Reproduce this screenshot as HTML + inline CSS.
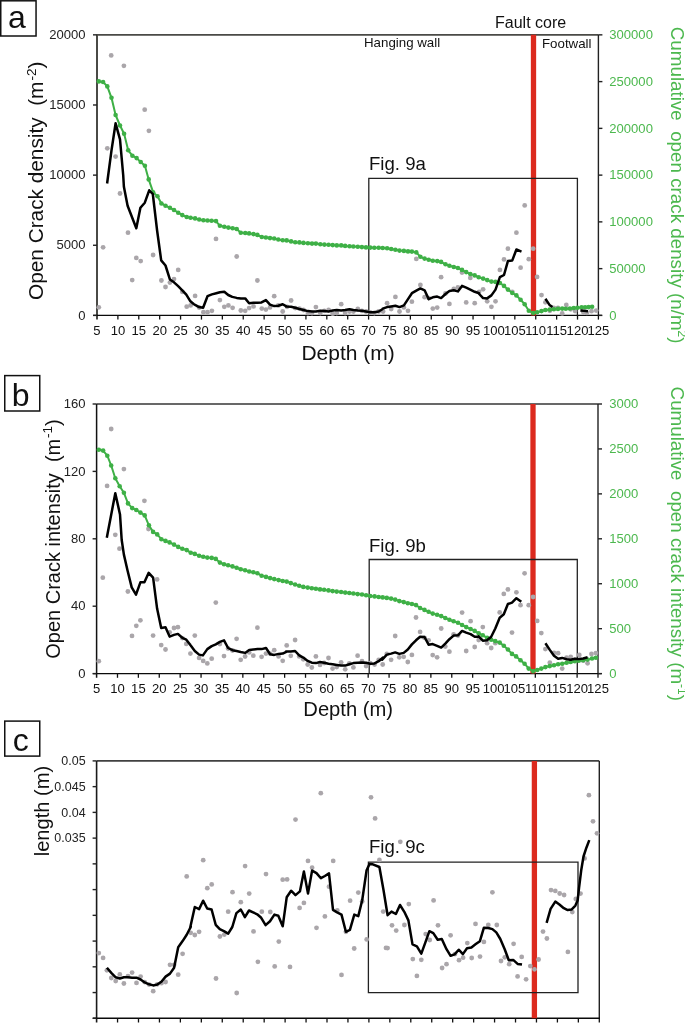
<!DOCTYPE html>
<html><head><meta charset="utf-8"><style>html,body{margin:0;padding:0;background:#fff;overflow:hidden}svg{display:block}</style></head>
<body>
<svg width="685" height="1023" viewBox="0 0 685 1023" font-family='"Liberation Sans", sans-serif' style="will-change:transform">
<rect width="685" height="1023" fill="#fff"/>
<line x1="97.0" y1="34.85" x2="598.4" y2="34.85" stroke="#4a4a46" stroke-width="1.8"/>
<line x1="598.4" y1="34.85" x2="598.4" y2="315.4" stroke="#222" stroke-width="1.4"/>
<line x1="97.0" y1="34.85" x2="97.0" y2="319.59999999999997" stroke="#4a4a46" stroke-width="2.0"/>
<line x1="93.2" y1="315.4" x2="601.9" y2="315.4" stroke="#0a0a0a" stroke-width="1.4"/>
<line x1="117.89" y1="315.4" x2="117.89" y2="319.59999999999997" stroke="#111" stroke-width="1.3"/>
<line x1="138.78" y1="315.4" x2="138.78" y2="319.59999999999997" stroke="#111" stroke-width="1.3"/>
<line x1="159.68" y1="315.4" x2="159.68" y2="319.59999999999997" stroke="#111" stroke-width="1.3"/>
<line x1="180.57" y1="315.4" x2="180.57" y2="319.59999999999997" stroke="#111" stroke-width="1.3"/>
<line x1="201.46" y1="315.4" x2="201.46" y2="319.59999999999997" stroke="#111" stroke-width="1.3"/>
<line x1="222.35" y1="315.4" x2="222.35" y2="319.59999999999997" stroke="#111" stroke-width="1.3"/>
<line x1="243.24" y1="315.4" x2="243.24" y2="319.59999999999997" stroke="#111" stroke-width="1.3"/>
<line x1="264.13" y1="315.4" x2="264.13" y2="319.59999999999997" stroke="#111" stroke-width="1.3"/>
<line x1="285.02" y1="315.4" x2="285.02" y2="319.59999999999997" stroke="#111" stroke-width="1.3"/>
<line x1="305.92" y1="315.4" x2="305.92" y2="319.59999999999997" stroke="#111" stroke-width="1.3"/>
<line x1="326.81" y1="315.4" x2="326.81" y2="319.59999999999997" stroke="#111" stroke-width="1.3"/>
<line x1="347.70" y1="315.4" x2="347.70" y2="319.59999999999997" stroke="#111" stroke-width="1.3"/>
<line x1="368.59" y1="315.4" x2="368.59" y2="319.59999999999997" stroke="#111" stroke-width="1.3"/>
<line x1="389.48" y1="315.4" x2="389.48" y2="319.59999999999997" stroke="#111" stroke-width="1.3"/>
<line x1="410.38" y1="315.4" x2="410.38" y2="319.59999999999997" stroke="#111" stroke-width="1.3"/>
<line x1="431.27" y1="315.4" x2="431.27" y2="319.59999999999997" stroke="#111" stroke-width="1.3"/>
<line x1="452.16" y1="315.4" x2="452.16" y2="319.59999999999997" stroke="#111" stroke-width="1.3"/>
<line x1="473.05" y1="315.4" x2="473.05" y2="319.59999999999997" stroke="#111" stroke-width="1.3"/>
<line x1="493.94" y1="315.4" x2="493.94" y2="319.59999999999997" stroke="#111" stroke-width="1.3"/>
<line x1="514.83" y1="315.4" x2="514.83" y2="319.59999999999997" stroke="#111" stroke-width="1.3"/>
<line x1="535.73" y1="315.4" x2="535.73" y2="319.59999999999997" stroke="#111" stroke-width="1.3"/>
<line x1="556.62" y1="315.4" x2="556.62" y2="319.59999999999997" stroke="#111" stroke-width="1.3"/>
<line x1="577.51" y1="315.4" x2="577.51" y2="319.59999999999997" stroke="#111" stroke-width="1.3"/>
<line x1="598.40" y1="315.4" x2="598.40" y2="319.59999999999997" stroke="#111" stroke-width="1.3"/>
<line x1="93.0" y1="315.40" x2="97.0" y2="315.40" stroke="#222" stroke-width="1.4"/>
<text transform="translate(85.6,319.60) scale(1.03,1)" text-anchor="end" font-size="12.7" fill="#222">0</text>
<line x1="93.0" y1="245.26" x2="97.0" y2="245.26" stroke="#222" stroke-width="1.4"/>
<text transform="translate(85.6,249.46) scale(1.03,1)" text-anchor="end" font-size="12.7" fill="#222">5000</text>
<line x1="93.0" y1="175.12" x2="97.0" y2="175.12" stroke="#222" stroke-width="1.4"/>
<text transform="translate(85.6,179.32) scale(1.03,1)" text-anchor="end" font-size="12.7" fill="#222">10000</text>
<line x1="93.0" y1="104.99" x2="97.0" y2="104.99" stroke="#222" stroke-width="1.4"/>
<text transform="translate(85.6,109.19) scale(1.03,1)" text-anchor="end" font-size="12.7" fill="#222">15000</text>
<line x1="93.0" y1="34.85" x2="97.0" y2="34.85" stroke="#222" stroke-width="1.4"/>
<text transform="translate(85.6,39.05) scale(1.03,1)" text-anchor="end" font-size="12.7" fill="#222">20000</text>
<line x1="598.4" y1="315.40" x2="602.4" y2="315.40" stroke="#222" stroke-width="1.4"/>
<text transform="translate(609.3,319.60) scale(1.03,1)" font-size="12.7" fill="#4cb84e">0</text>
<line x1="598.4" y1="268.64" x2="602.4" y2="268.64" stroke="#222" stroke-width="1.4"/>
<text transform="translate(609.3,272.84) scale(1.03,1)" font-size="12.7" fill="#4cb84e">50000</text>
<line x1="598.4" y1="221.88" x2="602.4" y2="221.88" stroke="#222" stroke-width="1.4"/>
<text transform="translate(609.3,226.08) scale(1.03,1)" font-size="12.7" fill="#4cb84e">100000</text>
<line x1="598.4" y1="175.12" x2="602.4" y2="175.12" stroke="#222" stroke-width="1.4"/>
<text transform="translate(609.3,179.32) scale(1.03,1)" font-size="12.7" fill="#4cb84e">150000</text>
<line x1="598.4" y1="128.37" x2="602.4" y2="128.37" stroke="#222" stroke-width="1.4"/>
<text transform="translate(609.3,132.57) scale(1.03,1)" font-size="12.7" fill="#4cb84e">200000</text>
<line x1="598.4" y1="81.61" x2="602.4" y2="81.61" stroke="#222" stroke-width="1.4"/>
<text transform="translate(609.3,85.81) scale(1.03,1)" font-size="12.7" fill="#4cb84e">250000</text>
<line x1="598.4" y1="34.85" x2="602.4" y2="34.85" stroke="#222" stroke-width="1.4"/>
<text transform="translate(609.3,39.05) scale(1.03,1)" font-size="12.7" fill="#4cb84e">300000</text>
<text transform="translate(97.00,335.4) scale(1.03,1)" text-anchor="middle" font-size="12.7" fill="#111">5</text>
<text transform="translate(117.89,335.4) scale(1.03,1)" text-anchor="middle" font-size="12.7" fill="#111">10</text>
<text transform="translate(138.78,335.4) scale(1.03,1)" text-anchor="middle" font-size="12.7" fill="#111">15</text>
<text transform="translate(159.68,335.4) scale(1.03,1)" text-anchor="middle" font-size="12.7" fill="#111">20</text>
<text transform="translate(180.57,335.4) scale(1.03,1)" text-anchor="middle" font-size="12.7" fill="#111">25</text>
<text transform="translate(201.46,335.4) scale(1.03,1)" text-anchor="middle" font-size="12.7" fill="#111">30</text>
<text transform="translate(222.35,335.4) scale(1.03,1)" text-anchor="middle" font-size="12.7" fill="#111">35</text>
<text transform="translate(243.24,335.4) scale(1.03,1)" text-anchor="middle" font-size="12.7" fill="#111">40</text>
<text transform="translate(264.13,335.4) scale(1.03,1)" text-anchor="middle" font-size="12.7" fill="#111">45</text>
<text transform="translate(285.02,335.4) scale(1.03,1)" text-anchor="middle" font-size="12.7" fill="#111">50</text>
<text transform="translate(305.92,335.4) scale(1.03,1)" text-anchor="middle" font-size="12.7" fill="#111">55</text>
<text transform="translate(326.81,335.4) scale(1.03,1)" text-anchor="middle" font-size="12.7" fill="#111">60</text>
<text transform="translate(347.70,335.4) scale(1.03,1)" text-anchor="middle" font-size="12.7" fill="#111">65</text>
<text transform="translate(368.59,335.4) scale(1.03,1)" text-anchor="middle" font-size="12.7" fill="#111">70</text>
<text transform="translate(389.48,335.4) scale(1.03,1)" text-anchor="middle" font-size="12.7" fill="#111">75</text>
<text transform="translate(410.38,335.4) scale(1.03,1)" text-anchor="middle" font-size="12.7" fill="#111">80</text>
<text transform="translate(431.27,335.4) scale(1.03,1)" text-anchor="middle" font-size="12.7" fill="#111">85</text>
<text transform="translate(452.16,335.4) scale(1.03,1)" text-anchor="middle" font-size="12.7" fill="#111">90</text>
<text transform="translate(473.05,335.4) scale(1.03,1)" text-anchor="middle" font-size="12.7" fill="#111">95</text>
<text transform="translate(493.94,335.4) scale(1.03,1)" text-anchor="middle" font-size="12.7" fill="#111">100</text>
<text transform="translate(514.83,335.4) scale(1.03,1)" text-anchor="middle" font-size="12.7" fill="#111">105</text>
<text transform="translate(535.73,335.4) scale(1.03,1)" text-anchor="middle" font-size="12.7" fill="#111">110</text>
<text transform="translate(556.62,335.4) scale(1.03,1)" text-anchor="middle" font-size="12.7" fill="#111">115</text>
<text transform="translate(577.51,335.4) scale(1.03,1)" text-anchor="middle" font-size="12.7" fill="#111">120</text>
<text transform="translate(598.40,335.4) scale(1.03,1)" text-anchor="middle" font-size="12.7" fill="#111">125</text>
<text x="301.4" y="359.6" font-size="21" fill="#111">Depth (m)</text>
<line x1="533.5" y1="34.85" x2="533.5" y2="315.4" stroke="#dc2a1e" stroke-width="5.3"/>
<path d="M368.8,315.4 V178.4 H577.4 V315.4" fill="none" stroke="#222" stroke-width="1.3"/>
<circle cx="98.8" cy="307.3" r="2.4" fill="#aaa6aa"/>
<circle cx="103.1" cy="247.3" r="2.4" fill="#aaa6aa"/>
<circle cx="107.3" cy="148.3" r="2.4" fill="#aaa6aa"/>
<circle cx="111.2" cy="55.4" r="2.4" fill="#aaa6aa"/>
<circle cx="115.6" cy="156.6" r="2.4" fill="#aaa6aa"/>
<circle cx="120.0" cy="193.5" r="2.4" fill="#aaa6aa"/>
<circle cx="123.9" cy="65.8" r="2.4" fill="#aaa6aa"/>
<circle cx="128.0" cy="232.7" r="2.4" fill="#aaa6aa"/>
<circle cx="132.2" cy="280.1" r="2.4" fill="#aaa6aa"/>
<circle cx="136.3" cy="257.9" r="2.4" fill="#aaa6aa"/>
<circle cx="140.7" cy="261.1" r="2.4" fill="#aaa6aa"/>
<circle cx="144.7" cy="109.7" r="2.4" fill="#aaa6aa"/>
<circle cx="148.9" cy="130.8" r="2.4" fill="#aaa6aa"/>
<circle cx="153.1" cy="255.0" r="2.4" fill="#aaa6aa"/>
<circle cx="161.4" cy="280.5" r="2.4" fill="#aaa6aa"/>
<circle cx="165.5" cy="287.0" r="2.4" fill="#aaa6aa"/>
<circle cx="169.9" cy="282.6" r="2.4" fill="#aaa6aa"/>
<circle cx="174.0" cy="279.1" r="2.4" fill="#aaa6aa"/>
<circle cx="178.2" cy="269.9" r="2.4" fill="#aaa6aa"/>
<circle cx="182.3" cy="291.8" r="2.4" fill="#aaa6aa"/>
<circle cx="186.7" cy="306.7" r="2.4" fill="#aaa6aa"/>
<circle cx="190.6" cy="305.4" r="2.4" fill="#aaa6aa"/>
<circle cx="195.1" cy="295.9" r="2.4" fill="#aaa6aa"/>
<circle cx="199.2" cy="307.6" r="2.4" fill="#aaa6aa"/>
<circle cx="203.4" cy="312.2" r="2.4" fill="#aaa6aa"/>
<circle cx="207.5" cy="312.2" r="2.4" fill="#aaa6aa"/>
<circle cx="211.9" cy="310.8" r="2.4" fill="#aaa6aa"/>
<circle cx="216.0" cy="238.9" r="2.4" fill="#aaa6aa"/>
<circle cx="219.9" cy="300.1" r="2.4" fill="#aaa6aa"/>
<circle cx="224.3" cy="306.8" r="2.4" fill="#aaa6aa"/>
<circle cx="228.4" cy="305.4" r="2.4" fill="#aaa6aa"/>
<circle cx="232.6" cy="307.8" r="2.4" fill="#aaa6aa"/>
<circle cx="236.7" cy="256.5" r="2.4" fill="#aaa6aa"/>
<circle cx="240.8" cy="310.5" r="2.4" fill="#aaa6aa"/>
<circle cx="245.2" cy="310.8" r="2.4" fill="#aaa6aa"/>
<circle cx="249.1" cy="308.1" r="2.4" fill="#aaa6aa"/>
<circle cx="253.5" cy="306.4" r="2.4" fill="#aaa6aa"/>
<circle cx="257.4" cy="280.5" r="2.4" fill="#aaa6aa"/>
<circle cx="261.8" cy="308.6" r="2.4" fill="#aaa6aa"/>
<circle cx="265.9" cy="309.6" r="2.4" fill="#aaa6aa"/>
<circle cx="270.0" cy="307.4" r="2.4" fill="#aaa6aa"/>
<circle cx="274.2" cy="296.2" r="2.4" fill="#aaa6aa"/>
<circle cx="278.3" cy="305.4" r="2.4" fill="#aaa6aa"/>
<circle cx="282.7" cy="311.5" r="2.4" fill="#aaa6aa"/>
<circle cx="287.1" cy="306.8" r="2.4" fill="#aaa6aa"/>
<circle cx="291.1" cy="300.5" r="2.4" fill="#aaa6aa"/>
<circle cx="295.2" cy="308.1" r="2.4" fill="#aaa6aa"/>
<circle cx="299.4" cy="308.6" r="2.4" fill="#aaa6aa"/>
<circle cx="303.5" cy="310.0" r="2.4" fill="#aaa6aa"/>
<circle cx="307.9" cy="313.0" r="2.4" fill="#aaa6aa"/>
<circle cx="312.0" cy="313.0" r="2.4" fill="#aaa6aa"/>
<circle cx="315.9" cy="307.1" r="2.4" fill="#aaa6aa"/>
<circle cx="320.3" cy="313.0" r="2.4" fill="#aaa6aa"/>
<circle cx="324.4" cy="310.8" r="2.4" fill="#aaa6aa"/>
<circle cx="328.6" cy="310.0" r="2.4" fill="#aaa6aa"/>
<circle cx="332.7" cy="313.7" r="2.4" fill="#aaa6aa"/>
<circle cx="336.8" cy="313.0" r="2.4" fill="#aaa6aa"/>
<circle cx="341.2" cy="304.2" r="2.4" fill="#aaa6aa"/>
<circle cx="345.1" cy="313.0" r="2.4" fill="#aaa6aa"/>
<circle cx="349.5" cy="311.5" r="2.4" fill="#aaa6aa"/>
<circle cx="353.4" cy="311.5" r="2.4" fill="#aaa6aa"/>
<circle cx="357.8" cy="309.0" r="2.4" fill="#aaa6aa"/>
<circle cx="361.9" cy="310.8" r="2.4" fill="#aaa6aa"/>
<circle cx="366.0" cy="311.5" r="2.4" fill="#aaa6aa"/>
<circle cx="370.2" cy="312.5" r="2.4" fill="#aaa6aa"/>
<circle cx="374.3" cy="313.0" r="2.4" fill="#aaa6aa"/>
<circle cx="378.7" cy="311.5" r="2.4" fill="#aaa6aa"/>
<circle cx="383.1" cy="311.5" r="2.4" fill="#aaa6aa"/>
<circle cx="387.1" cy="303.2" r="2.4" fill="#aaa6aa"/>
<circle cx="391.2" cy="309.0" r="2.4" fill="#aaa6aa"/>
<circle cx="395.4" cy="296.9" r="2.4" fill="#aaa6aa"/>
<circle cx="399.5" cy="311.5" r="2.4" fill="#aaa6aa"/>
<circle cx="403.9" cy="307.4" r="2.4" fill="#aaa6aa"/>
<circle cx="408.0" cy="310.8" r="2.4" fill="#aaa6aa"/>
<circle cx="411.9" cy="301.7" r="2.4" fill="#aaa6aa"/>
<circle cx="416.3" cy="258.9" r="2.4" fill="#aaa6aa"/>
<circle cx="420.4" cy="284.9" r="2.4" fill="#aaa6aa"/>
<circle cx="424.6" cy="297.2" r="2.4" fill="#aaa6aa"/>
<circle cx="428.7" cy="298.1" r="2.4" fill="#aaa6aa"/>
<circle cx="432.8" cy="308.6" r="2.4" fill="#aaa6aa"/>
<circle cx="437.2" cy="307.6" r="2.4" fill="#aaa6aa"/>
<circle cx="441.1" cy="277.2" r="2.4" fill="#aaa6aa"/>
<circle cx="445.5" cy="293.5" r="2.4" fill="#aaa6aa"/>
<circle cx="449.4" cy="303.9" r="2.4" fill="#aaa6aa"/>
<circle cx="453.8" cy="288.9" r="2.4" fill="#aaa6aa"/>
<circle cx="457.9" cy="287.4" r="2.4" fill="#aaa6aa"/>
<circle cx="462.0" cy="272.5" r="2.4" fill="#aaa6aa"/>
<circle cx="466.2" cy="302.4" r="2.4" fill="#aaa6aa"/>
<circle cx="470.3" cy="277.9" r="2.4" fill="#aaa6aa"/>
<circle cx="474.7" cy="303.2" r="2.4" fill="#aaa6aa"/>
<circle cx="479.1" cy="291.8" r="2.4" fill="#aaa6aa"/>
<circle cx="483.1" cy="289.3" r="2.4" fill="#aaa6aa"/>
<circle cx="487.2" cy="301.3" r="2.4" fill="#aaa6aa"/>
<circle cx="491.4" cy="306.8" r="2.4" fill="#aaa6aa"/>
<circle cx="495.5" cy="301.3" r="2.4" fill="#aaa6aa"/>
<circle cx="499.9" cy="269.9" r="2.4" fill="#aaa6aa"/>
<circle cx="504.0" cy="259.4" r="2.4" fill="#aaa6aa"/>
<circle cx="507.9" cy="248.7" r="2.4" fill="#aaa6aa"/>
<circle cx="512.3" cy="291.8" r="2.4" fill="#aaa6aa"/>
<circle cx="516.4" cy="232.7" r="2.4" fill="#aaa6aa"/>
<circle cx="520.6" cy="267.7" r="2.4" fill="#aaa6aa"/>
<circle cx="524.7" cy="205.4" r="2.4" fill="#aaa6aa"/>
<circle cx="528.8" cy="259.2" r="2.4" fill="#aaa6aa"/>
<circle cx="533.2" cy="248.7" r="2.4" fill="#aaa6aa"/>
<circle cx="537.1" cy="276.9" r="2.4" fill="#aaa6aa"/>
<circle cx="541.5" cy="295.1" r="2.4" fill="#aaa6aa"/>
<circle cx="545.4" cy="302.3" r="2.4" fill="#aaa6aa"/>
<circle cx="549.8" cy="310.8" r="2.4" fill="#aaa6aa"/>
<circle cx="553.9" cy="307.8" r="2.4" fill="#aaa6aa"/>
<circle cx="558.0" cy="307.8" r="2.4" fill="#aaa6aa"/>
<circle cx="562.2" cy="313.4" r="2.4" fill="#aaa6aa"/>
<circle cx="566.3" cy="304.9" r="2.4" fill="#aaa6aa"/>
<circle cx="570.7" cy="309.3" r="2.4" fill="#aaa6aa"/>
<circle cx="575.1" cy="311.1" r="2.4" fill="#aaa6aa"/>
<circle cx="583.4" cy="312.3" r="2.4" fill="#aaa6aa"/>
<circle cx="586.9" cy="312.9" r="2.4" fill="#aaa6aa"/>
<circle cx="591.5" cy="311.2" r="2.4" fill="#aaa6aa"/>
<circle cx="596.2" cy="310.6" r="2.4" fill="#aaa6aa"/>
<path d="M98.8,81.4 L103.1,82.0 L107.3,86.4 L111.5,97.8 L115.6,115.0 L120.0,125.5 L124.1,133.8 L128.2,150.3 L132.4,155.7 L136.6,158.1 L140.7,162.0 L144.9,165.7 L148.7,179.4 L153.1,192.2 L157.5,196.2 L161.4,203.5 L165.5,205.7 L169.9,207.8 L174.0,210.0 L178.2,212.7 L182.3,215.1 L186.7,217.0 L190.6,217.8 L195.1,218.4 L199.2,219.5 L203.4,220.3 L207.5,220.5 L211.6,220.7 L216.0,221.1 L219.9,225.8 L224.3,226.8 L228.4,227.6 L232.6,228.3 L236.7,229.0 L240.8,232.7 L245.2,233.0 L249.1,233.4 L253.5,234.1 L257.4,234.9 L261.8,237.0 L265.9,237.5 L270.0,238.1 L274.2,238.5 L278.3,239.5 L282.7,240.3 L286.7,240.4 L291.1,241.4 L295.2,242.2 L299.4,242.4 L303.5,242.9 L307.9,243.3 L312.0,243.6 L315.9,243.6 L320.3,244.3 L324.4,244.6 L328.6,244.8 L332.7,245.1 L336.8,245.4 L341.2,245.4 L345.1,245.9 L349.5,246.2 L353.4,246.5 L357.8,246.8 L361.9,247.1 L366.0,247.4 L370.2,247.6 L374.3,247.7 L378.7,247.8 L382.7,248.0 L387.1,248.3 L391.2,249.0 L395.4,249.7 L399.5,250.6 L403.9,250.9 L408.0,251.4 L411.9,251.6 L416.3,252.4 L420.4,256.8 L424.6,258.6 L428.7,259.7 L432.8,260.8 L437.2,261.1 L441.1,261.9 L445.5,264.3 L449.4,265.8 L453.8,267.0 L457.9,268.0 L462.0,269.9 L466.2,272.1 L470.3,274.0 L474.7,275.4 L478.7,277.2 L483.1,278.6 L487.2,280.1 L491.4,281.6 L495.5,281.9 L499.9,283.0 L504.0,285.9 L507.9,289.6 L512.3,293.0 L516.4,295.4 L520.6,299.8 L524.7,304.2 L528.8,310.8 L533.2,313.0 L537.1,312.2 L541.5,311.1 L545.4,310.0 L549.8,309.6 L553.9,309.3 L558.0,308.9 L562.2,308.6 L565.8,308.8 L569.9,308.5 L573.8,308.0 L577.5,307.7 L581.6,307.4 L585.1,307.2 L588.6,307.1 L592.1,306.8" fill="none" stroke="#3eb046" stroke-width="2.0" stroke-linejoin="round"/>
<circle cx="98.8" cy="81.4" r="2.3" fill="#3eb046"/>
<circle cx="103.1" cy="82.0" r="2.3" fill="#3eb046"/>
<circle cx="107.3" cy="86.4" r="2.3" fill="#3eb046"/>
<circle cx="111.5" cy="97.8" r="2.3" fill="#3eb046"/>
<circle cx="115.6" cy="115.0" r="2.3" fill="#3eb046"/>
<circle cx="120.0" cy="125.5" r="2.3" fill="#3eb046"/>
<circle cx="124.1" cy="133.8" r="2.3" fill="#3eb046"/>
<circle cx="128.2" cy="150.3" r="2.3" fill="#3eb046"/>
<circle cx="132.4" cy="155.7" r="2.3" fill="#3eb046"/>
<circle cx="136.6" cy="158.1" r="2.3" fill="#3eb046"/>
<circle cx="140.7" cy="162.0" r="2.3" fill="#3eb046"/>
<circle cx="144.9" cy="165.7" r="2.3" fill="#3eb046"/>
<circle cx="148.7" cy="179.4" r="2.3" fill="#3eb046"/>
<circle cx="153.1" cy="192.2" r="2.3" fill="#3eb046"/>
<circle cx="157.5" cy="196.2" r="2.3" fill="#3eb046"/>
<circle cx="161.4" cy="203.5" r="2.3" fill="#3eb046"/>
<circle cx="165.5" cy="205.7" r="2.3" fill="#3eb046"/>
<circle cx="169.9" cy="207.8" r="2.3" fill="#3eb046"/>
<circle cx="174.0" cy="210.0" r="2.3" fill="#3eb046"/>
<circle cx="178.2" cy="212.7" r="2.3" fill="#3eb046"/>
<circle cx="182.3" cy="215.1" r="2.3" fill="#3eb046"/>
<circle cx="186.7" cy="217.0" r="2.3" fill="#3eb046"/>
<circle cx="190.6" cy="217.8" r="2.3" fill="#3eb046"/>
<circle cx="195.1" cy="218.4" r="2.3" fill="#3eb046"/>
<circle cx="199.2" cy="219.5" r="2.3" fill="#3eb046"/>
<circle cx="203.4" cy="220.3" r="2.3" fill="#3eb046"/>
<circle cx="207.5" cy="220.5" r="2.3" fill="#3eb046"/>
<circle cx="211.6" cy="220.7" r="2.3" fill="#3eb046"/>
<circle cx="216.0" cy="221.1" r="2.3" fill="#3eb046"/>
<circle cx="219.9" cy="225.8" r="2.3" fill="#3eb046"/>
<circle cx="224.3" cy="226.8" r="2.3" fill="#3eb046"/>
<circle cx="228.4" cy="227.6" r="2.3" fill="#3eb046"/>
<circle cx="232.6" cy="228.3" r="2.3" fill="#3eb046"/>
<circle cx="236.7" cy="229.0" r="2.3" fill="#3eb046"/>
<circle cx="240.8" cy="232.7" r="2.3" fill="#3eb046"/>
<circle cx="245.2" cy="233.0" r="2.3" fill="#3eb046"/>
<circle cx="249.1" cy="233.4" r="2.3" fill="#3eb046"/>
<circle cx="253.5" cy="234.1" r="2.3" fill="#3eb046"/>
<circle cx="257.4" cy="234.9" r="2.3" fill="#3eb046"/>
<circle cx="261.8" cy="237.0" r="2.3" fill="#3eb046"/>
<circle cx="265.9" cy="237.5" r="2.3" fill="#3eb046"/>
<circle cx="270.0" cy="238.1" r="2.3" fill="#3eb046"/>
<circle cx="274.2" cy="238.5" r="2.3" fill="#3eb046"/>
<circle cx="278.3" cy="239.5" r="2.3" fill="#3eb046"/>
<circle cx="282.7" cy="240.3" r="2.3" fill="#3eb046"/>
<circle cx="286.7" cy="240.4" r="2.3" fill="#3eb046"/>
<circle cx="291.1" cy="241.4" r="2.3" fill="#3eb046"/>
<circle cx="295.2" cy="242.2" r="2.3" fill="#3eb046"/>
<circle cx="299.4" cy="242.4" r="2.3" fill="#3eb046"/>
<circle cx="303.5" cy="242.9" r="2.3" fill="#3eb046"/>
<circle cx="307.9" cy="243.3" r="2.3" fill="#3eb046"/>
<circle cx="312.0" cy="243.6" r="2.3" fill="#3eb046"/>
<circle cx="315.9" cy="243.6" r="2.3" fill="#3eb046"/>
<circle cx="320.3" cy="244.3" r="2.3" fill="#3eb046"/>
<circle cx="324.4" cy="244.6" r="2.3" fill="#3eb046"/>
<circle cx="328.6" cy="244.8" r="2.3" fill="#3eb046"/>
<circle cx="332.7" cy="245.1" r="2.3" fill="#3eb046"/>
<circle cx="336.8" cy="245.4" r="2.3" fill="#3eb046"/>
<circle cx="341.2" cy="245.4" r="2.3" fill="#3eb046"/>
<circle cx="345.1" cy="245.9" r="2.3" fill="#3eb046"/>
<circle cx="349.5" cy="246.2" r="2.3" fill="#3eb046"/>
<circle cx="353.4" cy="246.5" r="2.3" fill="#3eb046"/>
<circle cx="357.8" cy="246.8" r="2.3" fill="#3eb046"/>
<circle cx="361.9" cy="247.1" r="2.3" fill="#3eb046"/>
<circle cx="366.0" cy="247.4" r="2.3" fill="#3eb046"/>
<circle cx="370.2" cy="247.6" r="2.3" fill="#3eb046"/>
<circle cx="374.3" cy="247.7" r="2.3" fill="#3eb046"/>
<circle cx="378.7" cy="247.8" r="2.3" fill="#3eb046"/>
<circle cx="382.7" cy="248.0" r="2.3" fill="#3eb046"/>
<circle cx="387.1" cy="248.3" r="2.3" fill="#3eb046"/>
<circle cx="391.2" cy="249.0" r="2.3" fill="#3eb046"/>
<circle cx="395.4" cy="249.7" r="2.3" fill="#3eb046"/>
<circle cx="399.5" cy="250.6" r="2.3" fill="#3eb046"/>
<circle cx="403.9" cy="250.9" r="2.3" fill="#3eb046"/>
<circle cx="408.0" cy="251.4" r="2.3" fill="#3eb046"/>
<circle cx="411.9" cy="251.6" r="2.3" fill="#3eb046"/>
<circle cx="416.3" cy="252.4" r="2.3" fill="#3eb046"/>
<circle cx="420.4" cy="256.8" r="2.3" fill="#3eb046"/>
<circle cx="424.6" cy="258.6" r="2.3" fill="#3eb046"/>
<circle cx="428.7" cy="259.7" r="2.3" fill="#3eb046"/>
<circle cx="432.8" cy="260.8" r="2.3" fill="#3eb046"/>
<circle cx="437.2" cy="261.1" r="2.3" fill="#3eb046"/>
<circle cx="441.1" cy="261.9" r="2.3" fill="#3eb046"/>
<circle cx="445.5" cy="264.3" r="2.3" fill="#3eb046"/>
<circle cx="449.4" cy="265.8" r="2.3" fill="#3eb046"/>
<circle cx="453.8" cy="267.0" r="2.3" fill="#3eb046"/>
<circle cx="457.9" cy="268.0" r="2.3" fill="#3eb046"/>
<circle cx="462.0" cy="269.9" r="2.3" fill="#3eb046"/>
<circle cx="466.2" cy="272.1" r="2.3" fill="#3eb046"/>
<circle cx="470.3" cy="274.0" r="2.3" fill="#3eb046"/>
<circle cx="474.7" cy="275.4" r="2.3" fill="#3eb046"/>
<circle cx="478.7" cy="277.2" r="2.3" fill="#3eb046"/>
<circle cx="483.1" cy="278.6" r="2.3" fill="#3eb046"/>
<circle cx="487.2" cy="280.1" r="2.3" fill="#3eb046"/>
<circle cx="491.4" cy="281.6" r="2.3" fill="#3eb046"/>
<circle cx="495.5" cy="281.9" r="2.3" fill="#3eb046"/>
<circle cx="499.9" cy="283.0" r="2.3" fill="#3eb046"/>
<circle cx="504.0" cy="285.9" r="2.3" fill="#3eb046"/>
<circle cx="507.9" cy="289.6" r="2.3" fill="#3eb046"/>
<circle cx="512.3" cy="293.0" r="2.3" fill="#3eb046"/>
<circle cx="516.4" cy="295.4" r="2.3" fill="#3eb046"/>
<circle cx="520.6" cy="299.8" r="2.3" fill="#3eb046"/>
<circle cx="524.7" cy="304.2" r="2.3" fill="#3eb046"/>
<circle cx="528.8" cy="310.8" r="2.3" fill="#3eb046"/>
<circle cx="533.2" cy="313.0" r="2.3" fill="#3eb046"/>
<circle cx="537.1" cy="312.2" r="2.3" fill="#3eb046"/>
<circle cx="541.5" cy="311.1" r="2.3" fill="#3eb046"/>
<circle cx="545.4" cy="310.0" r="2.3" fill="#3eb046"/>
<circle cx="549.8" cy="309.6" r="2.3" fill="#3eb046"/>
<circle cx="553.9" cy="309.3" r="2.3" fill="#3eb046"/>
<circle cx="558.0" cy="308.9" r="2.3" fill="#3eb046"/>
<circle cx="562.2" cy="308.6" r="2.3" fill="#3eb046"/>
<circle cx="565.8" cy="308.8" r="2.3" fill="#3eb046"/>
<circle cx="569.9" cy="308.5" r="2.3" fill="#3eb046"/>
<circle cx="573.8" cy="308.0" r="2.3" fill="#3eb046"/>
<circle cx="577.5" cy="307.7" r="2.3" fill="#3eb046"/>
<circle cx="581.6" cy="307.4" r="2.3" fill="#3eb046"/>
<circle cx="585.1" cy="307.2" r="2.3" fill="#3eb046"/>
<circle cx="588.6" cy="307.1" r="2.3" fill="#3eb046"/>
<circle cx="592.1" cy="306.8" r="2.3" fill="#3eb046"/>
<path d="M107.1,183.5 L111.5,150.3 L115.6,123.3 L120.0,139.4 L123.2,175.0 L123.9,186.7 L127.6,205.7 L136.3,228.3 L140.4,207.8 L144.8,202.7 L149.2,190.3 L152.8,194.0 L157.1,230.5 L161.2,260.4 L165.5,265.5 L169.9,279.4 L174.0,282.3 L177.9,285.9 L182.3,290.3 L186.3,294.7 L190.4,301.3 L194.0,304.2 L195.1,304.9 L199.1,307.1 L203.1,307.8 L207.5,296.2 L211.9,294.4 L216.3,293.2 L219.9,292.2 L224.3,291.8 L228.2,295.0 L232.3,296.9 L236.7,297.9 L240.8,298.6 L245.2,298.4 L249.1,303.2 L253.5,302.7 L257.4,302.7 L261.5,302.4 L265.9,300.1 L270.0,304.6 L274.2,306.1 L278.3,305.7 L282.7,304.2 L286.4,306.4 L286.0,306.4 L291.1,306.7 L295.1,307.8 L299.4,309.0 L303.5,310.0 L307.9,311.1 L312.0,311.5 L315.9,311.5 L320.3,310.8 L324.4,311.1 L328.6,311.5 L332.7,310.5 L336.8,310.0 L341.2,310.5 L345.1,310.0 L349.5,309.3 L353.4,310.0 L357.8,310.5 L361.9,310.8 L366.0,311.5 L370.2,312.2 L374.3,312.2 L378.7,311.5 L382.4,309.3 L382.7,308.6 L387.1,307.1 L391.1,306.4 L395.4,305.7 L399.5,307.1 L403.9,305.4 L408.0,299.1 L411.9,293.2 L416.3,290.6 L420.4,288.4 L424.6,290.3 L428.7,299.1 L432.8,297.3 L437.2,296.6 L441.1,298.1 L445.5,294.0 L449.4,291.1 L453.8,290.3 L457.9,291.4 L462.0,285.9 L466.2,287.7 L470.3,289.6 L474.7,291.8 L479.1,293.2 L479.2,294.0 L483.1,298.1 L487.1,298.4 L491.4,295.4 L495.5,289.6 L499.9,277.2 L504.0,275.0 L507.9,261.1 L512.3,260.4 L516.4,249.5 L521.5,251.6" fill="none" stroke="#000" stroke-width="2.5" stroke-linejoin="round"/>
<path d="M545.4,298.8 L549.5,304.9 L552.5,307.1" fill="none" stroke="#000" stroke-width="2.5" stroke-linejoin="round"/>
<path d="M580.4,310.4 L583.9,310.8 L588.0,311.2" fill="none" stroke="#000" stroke-width="2.5" stroke-linejoin="round"/>
<line x1="96.6" y1="404.0" x2="598.0" y2="404.0" stroke="#686868" stroke-width="1.8"/>
<line x1="598.0" y1="404.0" x2="598.0" y2="673.6" stroke="#222" stroke-width="1.4"/>
<line x1="96.6" y1="404.0" x2="96.6" y2="677.8000000000001" stroke="#111" stroke-width="1.5"/>
<line x1="92.8" y1="673.6" x2="601.5" y2="673.6" stroke="#0a0a0a" stroke-width="1.4"/>
<line x1="117.49" y1="673.6" x2="117.49" y2="677.8000000000001" stroke="#111" stroke-width="1.3"/>
<line x1="138.38" y1="673.6" x2="138.38" y2="677.8000000000001" stroke="#111" stroke-width="1.3"/>
<line x1="159.27" y1="673.6" x2="159.27" y2="677.8000000000001" stroke="#111" stroke-width="1.3"/>
<line x1="180.17" y1="673.6" x2="180.17" y2="677.8000000000001" stroke="#111" stroke-width="1.3"/>
<line x1="201.06" y1="673.6" x2="201.06" y2="677.8000000000001" stroke="#111" stroke-width="1.3"/>
<line x1="221.95" y1="673.6" x2="221.95" y2="677.8000000000001" stroke="#111" stroke-width="1.3"/>
<line x1="242.84" y1="673.6" x2="242.84" y2="677.8000000000001" stroke="#111" stroke-width="1.3"/>
<line x1="263.73" y1="673.6" x2="263.73" y2="677.8000000000001" stroke="#111" stroke-width="1.3"/>
<line x1="284.62" y1="673.6" x2="284.62" y2="677.8000000000001" stroke="#111" stroke-width="1.3"/>
<line x1="305.52" y1="673.6" x2="305.52" y2="677.8000000000001" stroke="#111" stroke-width="1.3"/>
<line x1="326.41" y1="673.6" x2="326.41" y2="677.8000000000001" stroke="#111" stroke-width="1.3"/>
<line x1="347.30" y1="673.6" x2="347.30" y2="677.8000000000001" stroke="#111" stroke-width="1.3"/>
<line x1="368.19" y1="673.6" x2="368.19" y2="677.8000000000001" stroke="#111" stroke-width="1.3"/>
<line x1="389.08" y1="673.6" x2="389.08" y2="677.8000000000001" stroke="#111" stroke-width="1.3"/>
<line x1="409.98" y1="673.6" x2="409.98" y2="677.8000000000001" stroke="#111" stroke-width="1.3"/>
<line x1="430.87" y1="673.6" x2="430.87" y2="677.8000000000001" stroke="#111" stroke-width="1.3"/>
<line x1="451.76" y1="673.6" x2="451.76" y2="677.8000000000001" stroke="#111" stroke-width="1.3"/>
<line x1="472.65" y1="673.6" x2="472.65" y2="677.8000000000001" stroke="#111" stroke-width="1.3"/>
<line x1="493.54" y1="673.6" x2="493.54" y2="677.8000000000001" stroke="#111" stroke-width="1.3"/>
<line x1="514.43" y1="673.6" x2="514.43" y2="677.8000000000001" stroke="#111" stroke-width="1.3"/>
<line x1="535.33" y1="673.6" x2="535.33" y2="677.8000000000001" stroke="#111" stroke-width="1.3"/>
<line x1="556.22" y1="673.6" x2="556.22" y2="677.8000000000001" stroke="#111" stroke-width="1.3"/>
<line x1="577.11" y1="673.6" x2="577.11" y2="677.8000000000001" stroke="#111" stroke-width="1.3"/>
<line x1="598.00" y1="673.6" x2="598.00" y2="677.8000000000001" stroke="#111" stroke-width="1.3"/>
<line x1="92.6" y1="673.60" x2="96.6" y2="673.60" stroke="#222" stroke-width="1.4"/>
<text transform="translate(85.6,677.80) scale(1.03,1)" text-anchor="end" font-size="12.7" fill="#222">0</text>
<line x1="92.6" y1="606.20" x2="96.6" y2="606.20" stroke="#222" stroke-width="1.4"/>
<text transform="translate(85.6,610.40) scale(1.03,1)" text-anchor="end" font-size="12.7" fill="#222">40</text>
<line x1="92.6" y1="538.80" x2="96.6" y2="538.80" stroke="#222" stroke-width="1.4"/>
<text transform="translate(85.6,543.00) scale(1.03,1)" text-anchor="end" font-size="12.7" fill="#222">80</text>
<line x1="92.6" y1="471.40" x2="96.6" y2="471.40" stroke="#222" stroke-width="1.4"/>
<text transform="translate(85.6,475.60) scale(1.03,1)" text-anchor="end" font-size="12.7" fill="#222">120</text>
<line x1="92.6" y1="404.00" x2="96.6" y2="404.00" stroke="#222" stroke-width="1.4"/>
<text transform="translate(85.6,408.20) scale(1.03,1)" text-anchor="end" font-size="12.7" fill="#222">160</text>
<line x1="598.0" y1="673.60" x2="602.0" y2="673.60" stroke="#222" stroke-width="1.4"/>
<text transform="translate(609.3,677.80) scale(1.03,1)" font-size="12.7" fill="#4cb84e">0</text>
<line x1="598.0" y1="628.67" x2="602.0" y2="628.67" stroke="#222" stroke-width="1.4"/>
<text transform="translate(609.3,632.87) scale(1.03,1)" font-size="12.7" fill="#4cb84e">500</text>
<line x1="598.0" y1="583.73" x2="602.0" y2="583.73" stroke="#222" stroke-width="1.4"/>
<text transform="translate(609.3,587.93) scale(1.03,1)" font-size="12.7" fill="#4cb84e">1000</text>
<line x1="598.0" y1="538.80" x2="602.0" y2="538.80" stroke="#222" stroke-width="1.4"/>
<text transform="translate(609.3,543.00) scale(1.03,1)" font-size="12.7" fill="#4cb84e">1500</text>
<line x1="598.0" y1="493.87" x2="602.0" y2="493.87" stroke="#222" stroke-width="1.4"/>
<text transform="translate(609.3,498.07) scale(1.03,1)" font-size="12.7" fill="#4cb84e">2000</text>
<line x1="598.0" y1="448.93" x2="602.0" y2="448.93" stroke="#222" stroke-width="1.4"/>
<text transform="translate(609.3,453.13) scale(1.03,1)" font-size="12.7" fill="#4cb84e">2500</text>
<line x1="598.0" y1="404.00" x2="602.0" y2="404.00" stroke="#222" stroke-width="1.4"/>
<text transform="translate(609.3,408.20) scale(1.03,1)" font-size="12.7" fill="#4cb84e">3000</text>
<text transform="translate(96.60,693.2) scale(1.03,1)" text-anchor="middle" font-size="12.7" fill="#111">5</text>
<text transform="translate(117.49,693.2) scale(1.03,1)" text-anchor="middle" font-size="12.7" fill="#111">10</text>
<text transform="translate(138.38,693.2) scale(1.03,1)" text-anchor="middle" font-size="12.7" fill="#111">15</text>
<text transform="translate(159.27,693.2) scale(1.03,1)" text-anchor="middle" font-size="12.7" fill="#111">20</text>
<text transform="translate(180.17,693.2) scale(1.03,1)" text-anchor="middle" font-size="12.7" fill="#111">25</text>
<text transform="translate(201.06,693.2) scale(1.03,1)" text-anchor="middle" font-size="12.7" fill="#111">30</text>
<text transform="translate(221.95,693.2) scale(1.03,1)" text-anchor="middle" font-size="12.7" fill="#111">35</text>
<text transform="translate(242.84,693.2) scale(1.03,1)" text-anchor="middle" font-size="12.7" fill="#111">40</text>
<text transform="translate(263.73,693.2) scale(1.03,1)" text-anchor="middle" font-size="12.7" fill="#111">45</text>
<text transform="translate(284.62,693.2) scale(1.03,1)" text-anchor="middle" font-size="12.7" fill="#111">50</text>
<text transform="translate(305.52,693.2) scale(1.03,1)" text-anchor="middle" font-size="12.7" fill="#111">55</text>
<text transform="translate(326.41,693.2) scale(1.03,1)" text-anchor="middle" font-size="12.7" fill="#111">60</text>
<text transform="translate(347.30,693.2) scale(1.03,1)" text-anchor="middle" font-size="12.7" fill="#111">65</text>
<text transform="translate(368.19,693.2) scale(1.03,1)" text-anchor="middle" font-size="12.7" fill="#111">70</text>
<text transform="translate(389.08,693.2) scale(1.03,1)" text-anchor="middle" font-size="12.7" fill="#111">75</text>
<text transform="translate(409.98,693.2) scale(1.03,1)" text-anchor="middle" font-size="12.7" fill="#111">80</text>
<text transform="translate(430.87,693.2) scale(1.03,1)" text-anchor="middle" font-size="12.7" fill="#111">85</text>
<text transform="translate(451.76,693.2) scale(1.03,1)" text-anchor="middle" font-size="12.7" fill="#111">90</text>
<text transform="translate(472.65,693.2) scale(1.03,1)" text-anchor="middle" font-size="12.7" fill="#111">95</text>
<text transform="translate(493.54,693.2) scale(1.03,1)" text-anchor="middle" font-size="12.7" fill="#111">100</text>
<text transform="translate(514.43,693.2) scale(1.03,1)" text-anchor="middle" font-size="12.7" fill="#111">105</text>
<text transform="translate(535.33,693.2) scale(1.03,1)" text-anchor="middle" font-size="12.7" fill="#111">110</text>
<text transform="translate(556.22,693.2) scale(1.03,1)" text-anchor="middle" font-size="12.7" fill="#111">115</text>
<text transform="translate(577.11,693.2) scale(1.03,1)" text-anchor="middle" font-size="12.7" fill="#111">120</text>
<text transform="translate(598.00,693.2) scale(1.03,1)" text-anchor="middle" font-size="12.7" fill="#111">125</text>
<text x="303.3" y="715.9" font-size="20.2" fill="#111">Depth (m)</text>
<line x1="533.0" y1="404.0" x2="533.0" y2="673.6" stroke="#dc2a1e" stroke-width="5.3"/>
<path d="M369.2,673.6 V559.5 H577.3 V673.6" fill="none" stroke="#222" stroke-width="1.3"/>
<circle cx="98.8" cy="661.2" r="2.4" fill="#aaa6aa"/>
<circle cx="102.8" cy="577.7" r="2.4" fill="#aaa6aa"/>
<circle cx="107.1" cy="485.9" r="2.4" fill="#aaa6aa"/>
<circle cx="111.2" cy="429.0" r="2.4" fill="#aaa6aa"/>
<circle cx="115.3" cy="534.8" r="2.4" fill="#aaa6aa"/>
<circle cx="119.5" cy="548.7" r="2.4" fill="#aaa6aa"/>
<circle cx="123.9" cy="469.1" r="2.4" fill="#aaa6aa"/>
<circle cx="127.9" cy="591.5" r="2.4" fill="#aaa6aa"/>
<circle cx="132.0" cy="635.9" r="2.4" fill="#aaa6aa"/>
<circle cx="136.3" cy="625.8" r="2.4" fill="#aaa6aa"/>
<circle cx="140.4" cy="620.3" r="2.4" fill="#aaa6aa"/>
<circle cx="144.4" cy="500.8" r="2.4" fill="#aaa6aa"/>
<circle cx="148.5" cy="529.0" r="2.4" fill="#aaa6aa"/>
<circle cx="153.1" cy="635.6" r="2.4" fill="#aaa6aa"/>
<circle cx="157.1" cy="579.4" r="2.4" fill="#aaa6aa"/>
<circle cx="161.2" cy="645.1" r="2.4" fill="#aaa6aa"/>
<circle cx="165.5" cy="649.5" r="2.4" fill="#aaa6aa"/>
<circle cx="169.6" cy="632.3" r="2.4" fill="#aaa6aa"/>
<circle cx="174.0" cy="628.0" r="2.4" fill="#aaa6aa"/>
<circle cx="177.9" cy="627.2" r="2.4" fill="#aaa6aa"/>
<circle cx="182.3" cy="638.1" r="2.4" fill="#aaa6aa"/>
<circle cx="186.3" cy="643.9" r="2.4" fill="#aaa6aa"/>
<circle cx="190.4" cy="653.6" r="2.4" fill="#aaa6aa"/>
<circle cx="194.8" cy="635.6" r="2.4" fill="#aaa6aa"/>
<circle cx="199.1" cy="657.9" r="2.4" fill="#aaa6aa"/>
<circle cx="203.2" cy="660.9" r="2.4" fill="#aaa6aa"/>
<circle cx="207.3" cy="663.4" r="2.4" fill="#aaa6aa"/>
<circle cx="211.7" cy="658.7" r="2.4" fill="#aaa6aa"/>
<circle cx="215.8" cy="602.6" r="2.4" fill="#aaa6aa"/>
<circle cx="219.9" cy="644.1" r="2.4" fill="#aaa6aa"/>
<circle cx="224.0" cy="656.1" r="2.4" fill="#aaa6aa"/>
<circle cx="228.1" cy="648.5" r="2.4" fill="#aaa6aa"/>
<circle cx="232.5" cy="650.5" r="2.4" fill="#aaa6aa"/>
<circle cx="236.6" cy="638.8" r="2.4" fill="#aaa6aa"/>
<circle cx="240.7" cy="659.8" r="2.4" fill="#aaa6aa"/>
<circle cx="245.1" cy="656.5" r="2.4" fill="#aaa6aa"/>
<circle cx="249.2" cy="652.4" r="2.4" fill="#aaa6aa"/>
<circle cx="253.3" cy="655.7" r="2.4" fill="#aaa6aa"/>
<circle cx="257.4" cy="627.7" r="2.4" fill="#aaa6aa"/>
<circle cx="261.6" cy="656.8" r="2.4" fill="#aaa6aa"/>
<circle cx="266.0" cy="653.6" r="2.4" fill="#aaa6aa"/>
<circle cx="270.1" cy="653.6" r="2.4" fill="#aaa6aa"/>
<circle cx="274.2" cy="650.2" r="2.4" fill="#aaa6aa"/>
<circle cx="278.6" cy="656.4" r="2.4" fill="#aaa6aa"/>
<circle cx="282.7" cy="660.8" r="2.4" fill="#aaa6aa"/>
<circle cx="286.7" cy="645.4" r="2.4" fill="#aaa6aa"/>
<circle cx="290.8" cy="655.8" r="2.4" fill="#aaa6aa"/>
<circle cx="295.1" cy="640.0" r="2.4" fill="#aaa6aa"/>
<circle cx="299.2" cy="656.4" r="2.4" fill="#aaa6aa"/>
<circle cx="303.3" cy="659.3" r="2.4" fill="#aaa6aa"/>
<circle cx="307.7" cy="664.5" r="2.4" fill="#aaa6aa"/>
<circle cx="311.8" cy="667.5" r="2.4" fill="#aaa6aa"/>
<circle cx="315.9" cy="656.4" r="2.4" fill="#aaa6aa"/>
<circle cx="320.0" cy="664.9" r="2.4" fill="#aaa6aa"/>
<circle cx="324.1" cy="663.0" r="2.4" fill="#aaa6aa"/>
<circle cx="328.5" cy="658.0" r="2.4" fill="#aaa6aa"/>
<circle cx="332.6" cy="668.6" r="2.4" fill="#aaa6aa"/>
<circle cx="336.7" cy="667.1" r="2.4" fill="#aaa6aa"/>
<circle cx="341.1" cy="662.3" r="2.4" fill="#aaa6aa"/>
<circle cx="345.2" cy="669.3" r="2.4" fill="#aaa6aa"/>
<circle cx="349.3" cy="663.4" r="2.4" fill="#aaa6aa"/>
<circle cx="353.4" cy="667.4" r="2.4" fill="#aaa6aa"/>
<circle cx="357.6" cy="655.7" r="2.4" fill="#aaa6aa"/>
<circle cx="362.0" cy="661.2" r="2.4" fill="#aaa6aa"/>
<circle cx="366.1" cy="666.1" r="2.4" fill="#aaa6aa"/>
<circle cx="370.2" cy="663.1" r="2.4" fill="#aaa6aa"/>
<circle cx="374.6" cy="664.6" r="2.4" fill="#aaa6aa"/>
<circle cx="378.7" cy="659.8" r="2.4" fill="#aaa6aa"/>
<circle cx="382.7" cy="664.5" r="2.4" fill="#aaa6aa"/>
<circle cx="386.8" cy="653.9" r="2.4" fill="#aaa6aa"/>
<circle cx="391.1" cy="659.8" r="2.4" fill="#aaa6aa"/>
<circle cx="395.2" cy="636.0" r="2.4" fill="#aaa6aa"/>
<circle cx="399.3" cy="657.3" r="2.4" fill="#aaa6aa"/>
<circle cx="403.7" cy="656.8" r="2.4" fill="#aaa6aa"/>
<circle cx="407.8" cy="662.0" r="2.4" fill="#aaa6aa"/>
<circle cx="411.9" cy="654.9" r="2.4" fill="#aaa6aa"/>
<circle cx="416.0" cy="617.5" r="2.4" fill="#aaa6aa"/>
<circle cx="420.1" cy="631.9" r="2.4" fill="#aaa6aa"/>
<circle cx="424.5" cy="637.8" r="2.4" fill="#aaa6aa"/>
<circle cx="428.6" cy="640.3" r="2.4" fill="#aaa6aa"/>
<circle cx="432.7" cy="655.1" r="2.4" fill="#aaa6aa"/>
<circle cx="437.1" cy="657.3" r="2.4" fill="#aaa6aa"/>
<circle cx="441.2" cy="628.5" r="2.4" fill="#aaa6aa"/>
<circle cx="445.3" cy="646.6" r="2.4" fill="#aaa6aa"/>
<circle cx="449.4" cy="651.7" r="2.4" fill="#aaa6aa"/>
<circle cx="453.6" cy="634.4" r="2.4" fill="#aaa6aa"/>
<circle cx="458.0" cy="635.6" r="2.4" fill="#aaa6aa"/>
<circle cx="462.1" cy="612.6" r="2.4" fill="#aaa6aa"/>
<circle cx="466.2" cy="651.0" r="2.4" fill="#aaa6aa"/>
<circle cx="470.6" cy="621.2" r="2.4" fill="#aaa6aa"/>
<circle cx="474.7" cy="647.0" r="2.4" fill="#aaa6aa"/>
<circle cx="478.7" cy="640.0" r="2.4" fill="#aaa6aa"/>
<circle cx="482.8" cy="627.1" r="2.4" fill="#aaa6aa"/>
<circle cx="487.1" cy="643.2" r="2.4" fill="#aaa6aa"/>
<circle cx="491.2" cy="648.0" r="2.4" fill="#aaa6aa"/>
<circle cx="495.3" cy="643.2" r="2.4" fill="#aaa6aa"/>
<circle cx="499.7" cy="612.4" r="2.4" fill="#aaa6aa"/>
<circle cx="503.8" cy="593.9" r="2.4" fill="#aaa6aa"/>
<circle cx="507.9" cy="589.4" r="2.4" fill="#aaa6aa"/>
<circle cx="512.0" cy="632.6" r="2.4" fill="#aaa6aa"/>
<circle cx="516.4" cy="592.3" r="2.4" fill="#aaa6aa"/>
<circle cx="520.5" cy="605.2" r="2.4" fill="#aaa6aa"/>
<circle cx="524.6" cy="573.3" r="2.4" fill="#aaa6aa"/>
<circle cx="528.7" cy="605.2" r="2.4" fill="#aaa6aa"/>
<circle cx="533.1" cy="597.0" r="2.4" fill="#aaa6aa"/>
<circle cx="537.2" cy="620.9" r="2.4" fill="#aaa6aa"/>
<circle cx="541.3" cy="633.1" r="2.4" fill="#aaa6aa"/>
<circle cx="545.4" cy="649.1" r="2.4" fill="#aaa6aa"/>
<circle cx="549.8" cy="662.7" r="2.4" fill="#aaa6aa"/>
<circle cx="554.0" cy="652.9" r="2.4" fill="#aaa6aa"/>
<circle cx="558.1" cy="653.2" r="2.4" fill="#aaa6aa"/>
<circle cx="562.2" cy="668.6" r="2.4" fill="#aaa6aa"/>
<circle cx="566.6" cy="657.6" r="2.4" fill="#aaa6aa"/>
<circle cx="570.7" cy="656.8" r="2.4" fill="#aaa6aa"/>
<circle cx="574.8" cy="659.8" r="2.4" fill="#aaa6aa"/>
<circle cx="579.3" cy="654.9" r="2.4" fill="#aaa6aa"/>
<circle cx="583.2" cy="660.7" r="2.4" fill="#aaa6aa"/>
<circle cx="587.6" cy="663.3" r="2.4" fill="#aaa6aa"/>
<circle cx="591.5" cy="654.0" r="2.4" fill="#aaa6aa"/>
<circle cx="595.9" cy="653.1" r="2.4" fill="#aaa6aa"/>
<path d="M98.8,449.7 L103.1,450.6 L107.3,455.7 L111.2,465.5 L115.3,478.3 L119.7,486.2 L123.9,492.8 L128.0,503.4 L132.2,508.1 L136.3,510.0 L140.4,512.6 L144.7,515.4 L148.9,525.3 L153.1,531.9 L157.2,534.4 L161.4,539.2 L165.5,540.9 L169.6,542.4 L174.0,544.6 L178.2,546.9 L182.3,548.7 L186.7,550.1 L190.7,552.7 L194.8,553.9 L199.1,555.7 L203.2,556.8 L207.3,557.6 L211.7,557.9 L215.8,558.9 L219.9,562.6 L224.0,564.2 L228.1,565.2 L232.5,566.4 L236.6,567.8 L240.7,569.3 L245.1,570.3 L249.2,571.5 L253.3,572.2 L257.4,573.3 L261.6,575.7 L266.0,576.9 L270.1,578.1 L274.2,579.1 L278.6,580.1 L282.7,581.0 L286.7,581.6 L290.8,583.1 L295.1,584.5 L299.2,585.7 L303.3,586.9 L307.7,587.6 L311.8,588.2 L315.9,588.7 L320.0,589.4 L324.1,589.8 L328.5,590.4 L332.6,591.1 L336.7,591.6 L341.1,592.0 L345.2,592.6 L349.3,593.0 L353.4,593.5 L357.6,594.1 L362.0,594.5 L366.1,595.2 L370.2,596.0 L374.6,596.4 L378.7,597.0 L382.7,597.4 L386.8,597.9 L391.1,598.6 L395.2,599.6 L399.3,601.1 L403.7,602.1 L407.8,603.3 L411.9,604.0 L416.0,605.1 L420.1,608.0 L424.5,609.9 L428.6,611.8 L432.7,613.6 L437.1,614.8 L441.2,616.1 L445.3,618.0 L449.4,619.7 L453.6,621.2 L458.0,622.7 L462.1,625.0 L466.2,627.1 L470.6,629.0 L474.7,630.9 L478.7,633.4 L482.8,635.3 L487.1,637.8 L491.2,639.7 L495.3,641.1 L499.7,642.6 L503.8,645.8 L507.9,649.5 L512.0,653.9 L516.1,656.4 L520.5,660.2 L524.6,663.7 L528.7,668.6 L533.1,671.1 L537.2,670.0 L541.3,668.6 L545.4,667.1 L549.8,666.1 L554.0,665.2 L558.1,664.2 L562.2,663.7 L566.6,662.7 L570.7,662.0 L574.8,661.2 L578.8,660.7 L583.2,660.3 L587.6,659.6 L592.0,658.5 L595.9,657.7" fill="none" stroke="#3eb046" stroke-width="2.0" stroke-linejoin="round"/>
<circle cx="98.8" cy="449.7" r="2.3" fill="#3eb046"/>
<circle cx="103.1" cy="450.6" r="2.3" fill="#3eb046"/>
<circle cx="107.3" cy="455.7" r="2.3" fill="#3eb046"/>
<circle cx="111.2" cy="465.5" r="2.3" fill="#3eb046"/>
<circle cx="115.3" cy="478.3" r="2.3" fill="#3eb046"/>
<circle cx="119.7" cy="486.2" r="2.3" fill="#3eb046"/>
<circle cx="123.9" cy="492.8" r="2.3" fill="#3eb046"/>
<circle cx="128.0" cy="503.4" r="2.3" fill="#3eb046"/>
<circle cx="132.2" cy="508.1" r="2.3" fill="#3eb046"/>
<circle cx="136.3" cy="510.0" r="2.3" fill="#3eb046"/>
<circle cx="140.4" cy="512.6" r="2.3" fill="#3eb046"/>
<circle cx="144.7" cy="515.4" r="2.3" fill="#3eb046"/>
<circle cx="148.9" cy="525.3" r="2.3" fill="#3eb046"/>
<circle cx="153.1" cy="531.9" r="2.3" fill="#3eb046"/>
<circle cx="157.2" cy="534.4" r="2.3" fill="#3eb046"/>
<circle cx="161.4" cy="539.2" r="2.3" fill="#3eb046"/>
<circle cx="165.5" cy="540.9" r="2.3" fill="#3eb046"/>
<circle cx="169.6" cy="542.4" r="2.3" fill="#3eb046"/>
<circle cx="174.0" cy="544.6" r="2.3" fill="#3eb046"/>
<circle cx="178.2" cy="546.9" r="2.3" fill="#3eb046"/>
<circle cx="182.3" cy="548.7" r="2.3" fill="#3eb046"/>
<circle cx="186.7" cy="550.1" r="2.3" fill="#3eb046"/>
<circle cx="190.7" cy="552.7" r="2.3" fill="#3eb046"/>
<circle cx="194.8" cy="553.9" r="2.3" fill="#3eb046"/>
<circle cx="199.1" cy="555.7" r="2.3" fill="#3eb046"/>
<circle cx="203.2" cy="556.8" r="2.3" fill="#3eb046"/>
<circle cx="207.3" cy="557.6" r="2.3" fill="#3eb046"/>
<circle cx="211.7" cy="557.9" r="2.3" fill="#3eb046"/>
<circle cx="215.8" cy="558.9" r="2.3" fill="#3eb046"/>
<circle cx="219.9" cy="562.6" r="2.3" fill="#3eb046"/>
<circle cx="224.0" cy="564.2" r="2.3" fill="#3eb046"/>
<circle cx="228.1" cy="565.2" r="2.3" fill="#3eb046"/>
<circle cx="232.5" cy="566.4" r="2.3" fill="#3eb046"/>
<circle cx="236.6" cy="567.8" r="2.3" fill="#3eb046"/>
<circle cx="240.7" cy="569.3" r="2.3" fill="#3eb046"/>
<circle cx="245.1" cy="570.3" r="2.3" fill="#3eb046"/>
<circle cx="249.2" cy="571.5" r="2.3" fill="#3eb046"/>
<circle cx="253.3" cy="572.2" r="2.3" fill="#3eb046"/>
<circle cx="257.4" cy="573.3" r="2.3" fill="#3eb046"/>
<circle cx="261.6" cy="575.7" r="2.3" fill="#3eb046"/>
<circle cx="266.0" cy="576.9" r="2.3" fill="#3eb046"/>
<circle cx="270.1" cy="578.1" r="2.3" fill="#3eb046"/>
<circle cx="274.2" cy="579.1" r="2.3" fill="#3eb046"/>
<circle cx="278.6" cy="580.1" r="2.3" fill="#3eb046"/>
<circle cx="282.7" cy="581.0" r="2.3" fill="#3eb046"/>
<circle cx="286.7" cy="581.6" r="2.3" fill="#3eb046"/>
<circle cx="290.8" cy="583.1" r="2.3" fill="#3eb046"/>
<circle cx="295.1" cy="584.5" r="2.3" fill="#3eb046"/>
<circle cx="299.2" cy="585.7" r="2.3" fill="#3eb046"/>
<circle cx="303.3" cy="586.9" r="2.3" fill="#3eb046"/>
<circle cx="307.7" cy="587.6" r="2.3" fill="#3eb046"/>
<circle cx="311.8" cy="588.2" r="2.3" fill="#3eb046"/>
<circle cx="315.9" cy="588.7" r="2.3" fill="#3eb046"/>
<circle cx="320.0" cy="589.4" r="2.3" fill="#3eb046"/>
<circle cx="324.1" cy="589.8" r="2.3" fill="#3eb046"/>
<circle cx="328.5" cy="590.4" r="2.3" fill="#3eb046"/>
<circle cx="332.6" cy="591.1" r="2.3" fill="#3eb046"/>
<circle cx="336.7" cy="591.6" r="2.3" fill="#3eb046"/>
<circle cx="341.1" cy="592.0" r="2.3" fill="#3eb046"/>
<circle cx="345.2" cy="592.6" r="2.3" fill="#3eb046"/>
<circle cx="349.3" cy="593.0" r="2.3" fill="#3eb046"/>
<circle cx="353.4" cy="593.5" r="2.3" fill="#3eb046"/>
<circle cx="357.6" cy="594.1" r="2.3" fill="#3eb046"/>
<circle cx="362.0" cy="594.5" r="2.3" fill="#3eb046"/>
<circle cx="366.1" cy="595.2" r="2.3" fill="#3eb046"/>
<circle cx="370.2" cy="596.0" r="2.3" fill="#3eb046"/>
<circle cx="374.6" cy="596.4" r="2.3" fill="#3eb046"/>
<circle cx="378.7" cy="597.0" r="2.3" fill="#3eb046"/>
<circle cx="382.7" cy="597.4" r="2.3" fill="#3eb046"/>
<circle cx="386.8" cy="597.9" r="2.3" fill="#3eb046"/>
<circle cx="391.1" cy="598.6" r="2.3" fill="#3eb046"/>
<circle cx="395.2" cy="599.6" r="2.3" fill="#3eb046"/>
<circle cx="399.3" cy="601.1" r="2.3" fill="#3eb046"/>
<circle cx="403.7" cy="602.1" r="2.3" fill="#3eb046"/>
<circle cx="407.8" cy="603.3" r="2.3" fill="#3eb046"/>
<circle cx="411.9" cy="604.0" r="2.3" fill="#3eb046"/>
<circle cx="416.0" cy="605.1" r="2.3" fill="#3eb046"/>
<circle cx="420.1" cy="608.0" r="2.3" fill="#3eb046"/>
<circle cx="424.5" cy="609.9" r="2.3" fill="#3eb046"/>
<circle cx="428.6" cy="611.8" r="2.3" fill="#3eb046"/>
<circle cx="432.7" cy="613.6" r="2.3" fill="#3eb046"/>
<circle cx="437.1" cy="614.8" r="2.3" fill="#3eb046"/>
<circle cx="441.2" cy="616.1" r="2.3" fill="#3eb046"/>
<circle cx="445.3" cy="618.0" r="2.3" fill="#3eb046"/>
<circle cx="449.4" cy="619.7" r="2.3" fill="#3eb046"/>
<circle cx="453.6" cy="621.2" r="2.3" fill="#3eb046"/>
<circle cx="458.0" cy="622.7" r="2.3" fill="#3eb046"/>
<circle cx="462.1" cy="625.0" r="2.3" fill="#3eb046"/>
<circle cx="466.2" cy="627.1" r="2.3" fill="#3eb046"/>
<circle cx="470.6" cy="629.0" r="2.3" fill="#3eb046"/>
<circle cx="474.7" cy="630.9" r="2.3" fill="#3eb046"/>
<circle cx="478.7" cy="633.4" r="2.3" fill="#3eb046"/>
<circle cx="482.8" cy="635.3" r="2.3" fill="#3eb046"/>
<circle cx="487.1" cy="637.8" r="2.3" fill="#3eb046"/>
<circle cx="491.2" cy="639.7" r="2.3" fill="#3eb046"/>
<circle cx="495.3" cy="641.1" r="2.3" fill="#3eb046"/>
<circle cx="499.7" cy="642.6" r="2.3" fill="#3eb046"/>
<circle cx="503.8" cy="645.8" r="2.3" fill="#3eb046"/>
<circle cx="507.9" cy="649.5" r="2.3" fill="#3eb046"/>
<circle cx="512.0" cy="653.9" r="2.3" fill="#3eb046"/>
<circle cx="516.1" cy="656.4" r="2.3" fill="#3eb046"/>
<circle cx="520.5" cy="660.2" r="2.3" fill="#3eb046"/>
<circle cx="524.6" cy="663.7" r="2.3" fill="#3eb046"/>
<circle cx="528.7" cy="668.6" r="2.3" fill="#3eb046"/>
<circle cx="533.1" cy="671.1" r="2.3" fill="#3eb046"/>
<circle cx="537.2" cy="670.0" r="2.3" fill="#3eb046"/>
<circle cx="541.3" cy="668.6" r="2.3" fill="#3eb046"/>
<circle cx="545.4" cy="667.1" r="2.3" fill="#3eb046"/>
<circle cx="549.8" cy="666.1" r="2.3" fill="#3eb046"/>
<circle cx="554.0" cy="665.2" r="2.3" fill="#3eb046"/>
<circle cx="558.1" cy="664.2" r="2.3" fill="#3eb046"/>
<circle cx="562.2" cy="663.7" r="2.3" fill="#3eb046"/>
<circle cx="566.6" cy="662.7" r="2.3" fill="#3eb046"/>
<circle cx="570.7" cy="662.0" r="2.3" fill="#3eb046"/>
<circle cx="574.8" cy="661.2" r="2.3" fill="#3eb046"/>
<circle cx="578.8" cy="660.7" r="2.3" fill="#3eb046"/>
<circle cx="583.2" cy="660.3" r="2.3" fill="#3eb046"/>
<circle cx="587.6" cy="659.6" r="2.3" fill="#3eb046"/>
<circle cx="592.0" cy="658.5" r="2.3" fill="#3eb046"/>
<circle cx="595.9" cy="657.7" r="2.3" fill="#3eb046"/>
<path d="M106.8,537.7 L115.3,493.2 L120.0,514.4 L121.7,540.0 L123.9,554.6 L127.6,570.7 L131.7,587.4 L136.0,594.7 L140.4,582.3 L144.4,582.3 L148.7,572.8 L153.1,577.7 L157.1,608.6 L161.2,627.9 L165.5,627.3 L169.6,636.6 L174.0,634.9 L177.9,633.9 L182.3,637.8 L186.3,639.7 L190.4,645.1 L190.0,644.4 L194.8,651.0 L199.1,654.6 L202.9,655.4 L207.3,649.1 L211.7,646.1 L215.8,644.4 L219.9,641.9 L224.0,640.3 L228.1,648.0 L232.5,650.2 L236.6,651.0 L240.7,652.0 L245.1,652.9 L249.2,649.9 L253.3,649.5 L257.4,649.1 L261.6,649.1 L266.0,648.0 L270.1,654.3 L274.2,654.9 L278.6,653.9 L282.7,653.6 L286.8,651.7 L286.0,651.4 L290.8,651.4 L295.1,651.0 L299.2,655.4 L303.3,657.6 L307.7,660.9 L311.8,662.7 L315.9,663.1 L320.0,662.0 L324.1,662.7 L328.5,663.7 L332.6,664.2 L336.7,664.9 L341.1,665.6 L345.2,665.6 L349.3,664.2 L353.4,663.1 L357.6,662.7 L362.0,662.4 L366.1,662.7 L370.2,663.7 L374.6,663.4 L378.7,661.2 L382.8,657.6 L382.0,659.8 L386.8,654.6 L391.1,653.6 L395.2,652.4 L399.3,653.9 L403.7,652.9 L407.8,649.5 L411.9,644.4 L416.0,640.3 L420.1,636.7 L424.5,637.0 L428.6,644.7 L432.7,644.1 L437.1,645.8 L441.2,647.6 L445.3,643.6 L449.4,639.2 L453.6,635.6 L458.0,635.3 L462.1,630.9 L466.2,632.6 L470.6,634.1 L474.7,636.7 L478.8,636.7 L478.7,636.3 L482.8,640.7 L487.1,640.3 L491.2,636.7 L495.3,628.5 L499.7,617.7 L503.8,614.3 L507.9,604.0 L512.0,602.6 L516.4,598.2 L521.3,601.8" fill="none" stroke="#000" stroke-width="2.5" stroke-linejoin="round"/>
<path d="M545.4,643.2 L549.8,649.9 L554.0,655.8 L558.1,658.7 L562.2,657.9 L566.6,659.3 L570.7,659.8 L574.8,658.7 L578.8,659.0 L583.2,658.5 L587.6,657.2" fill="none" stroke="#000" stroke-width="2.5" stroke-linejoin="round"/>
<line x1="96.6" y1="760.9" x2="599.3" y2="760.9" stroke="#404040" stroke-width="1.8"/>
<line x1="599.3" y1="760.9" x2="599.3" y2="1018.3" stroke="#222" stroke-width="1.4"/>
<line x1="96.6" y1="760.9" x2="96.6" y2="1022.5" stroke="#1a1a1a" stroke-width="1.6"/>
<line x1="92.8" y1="1018.3" x2="600.0" y2="1018.3" stroke="#0a0a0a" stroke-width="1.4"/>
<line x1="117.55" y1="1018.3" x2="117.55" y2="1022.5" stroke="#111" stroke-width="1.3"/>
<line x1="138.49" y1="1018.3" x2="138.49" y2="1022.5" stroke="#111" stroke-width="1.3"/>
<line x1="159.44" y1="1018.3" x2="159.44" y2="1022.5" stroke="#111" stroke-width="1.3"/>
<line x1="180.38" y1="1018.3" x2="180.38" y2="1022.5" stroke="#111" stroke-width="1.3"/>
<line x1="201.33" y1="1018.3" x2="201.33" y2="1022.5" stroke="#111" stroke-width="1.3"/>
<line x1="222.27" y1="1018.3" x2="222.27" y2="1022.5" stroke="#111" stroke-width="1.3"/>
<line x1="243.22" y1="1018.3" x2="243.22" y2="1022.5" stroke="#111" stroke-width="1.3"/>
<line x1="264.17" y1="1018.3" x2="264.17" y2="1022.5" stroke="#111" stroke-width="1.3"/>
<line x1="285.11" y1="1018.3" x2="285.11" y2="1022.5" stroke="#111" stroke-width="1.3"/>
<line x1="306.06" y1="1018.3" x2="306.06" y2="1022.5" stroke="#111" stroke-width="1.3"/>
<line x1="327.00" y1="1018.3" x2="327.00" y2="1022.5" stroke="#111" stroke-width="1.3"/>
<line x1="347.95" y1="1018.3" x2="347.95" y2="1022.5" stroke="#111" stroke-width="1.3"/>
<line x1="368.90" y1="1018.3" x2="368.90" y2="1022.5" stroke="#111" stroke-width="1.3"/>
<line x1="389.84" y1="1018.3" x2="389.84" y2="1022.5" stroke="#111" stroke-width="1.3"/>
<line x1="410.79" y1="1018.3" x2="410.79" y2="1022.5" stroke="#111" stroke-width="1.3"/>
<line x1="431.73" y1="1018.3" x2="431.73" y2="1022.5" stroke="#111" stroke-width="1.3"/>
<line x1="452.68" y1="1018.3" x2="452.68" y2="1022.5" stroke="#111" stroke-width="1.3"/>
<line x1="473.62" y1="1018.3" x2="473.62" y2="1022.5" stroke="#111" stroke-width="1.3"/>
<line x1="494.57" y1="1018.3" x2="494.57" y2="1022.5" stroke="#111" stroke-width="1.3"/>
<line x1="515.52" y1="1018.3" x2="515.52" y2="1022.5" stroke="#111" stroke-width="1.3"/>
<line x1="536.46" y1="1018.3" x2="536.46" y2="1022.5" stroke="#111" stroke-width="1.3"/>
<line x1="557.41" y1="1018.3" x2="557.41" y2="1022.5" stroke="#111" stroke-width="1.3"/>
<line x1="578.35" y1="1018.3" x2="578.35" y2="1022.5" stroke="#111" stroke-width="1.3"/>
<line x1="599.30" y1="1018.3" x2="599.30" y2="1022.5" stroke="#111" stroke-width="1.3"/>
<line x1="92.6" y1="1018.30" x2="96.6" y2="1018.30" stroke="#222" stroke-width="1.4"/>
<line x1="92.6" y1="992.56" x2="96.6" y2="992.56" stroke="#222" stroke-width="1.4"/>
<line x1="92.6" y1="966.82" x2="96.6" y2="966.82" stroke="#222" stroke-width="1.4"/>
<line x1="92.6" y1="941.08" x2="96.6" y2="941.08" stroke="#222" stroke-width="1.4"/>
<line x1="92.6" y1="915.34" x2="96.6" y2="915.34" stroke="#222" stroke-width="1.4"/>
<line x1="92.6" y1="889.60" x2="96.6" y2="889.60" stroke="#222" stroke-width="1.4"/>
<line x1="92.6" y1="863.86" x2="96.6" y2="863.86" stroke="#222" stroke-width="1.4"/>
<line x1="92.6" y1="838.12" x2="96.6" y2="838.12" stroke="#222" stroke-width="1.4"/>
<text transform="translate(85.6,842.32) scale(0.985,1)" text-anchor="end" font-size="12.7" fill="#222">0.035</text>
<line x1="92.6" y1="812.38" x2="96.6" y2="812.38" stroke="#222" stroke-width="1.4"/>
<text transform="translate(85.6,816.58) scale(0.985,1)" text-anchor="end" font-size="12.7" fill="#222">0.04</text>
<line x1="92.6" y1="786.64" x2="96.6" y2="786.64" stroke="#222" stroke-width="1.4"/>
<text transform="translate(85.6,790.84) scale(0.985,1)" text-anchor="end" font-size="12.7" fill="#222">0.045</text>
<line x1="92.6" y1="760.90" x2="96.6" y2="760.90" stroke="#222" stroke-width="1.4"/>
<text transform="translate(85.6,765.10) scale(0.985,1)" text-anchor="end" font-size="12.7" fill="#222">0.05</text>
<line x1="534.4" y1="760.9" x2="534.4" y2="1018.3" stroke="#dc2a1e" stroke-width="5.3"/>
<path d="M368.4,992.6 V862.2 H578.0 V992.6 Z" fill="none" stroke="#222" stroke-width="1.3"/>
<circle cx="98.8" cy="953.1" r="2.4" fill="#aaa6aa"/>
<circle cx="103.1" cy="957.9" r="2.4" fill="#aaa6aa"/>
<circle cx="106.9" cy="970.3" r="2.4" fill="#aaa6aa"/>
<circle cx="111.3" cy="978.0" r="2.4" fill="#aaa6aa"/>
<circle cx="115.7" cy="981.0" r="2.4" fill="#aaa6aa"/>
<circle cx="119.8" cy="974.4" r="2.4" fill="#aaa6aa"/>
<circle cx="123.9" cy="983.5" r="2.4" fill="#aaa6aa"/>
<circle cx="128.0" cy="976.1" r="2.4" fill="#aaa6aa"/>
<circle cx="132.1" cy="972.6" r="2.4" fill="#aaa6aa"/>
<circle cx="136.5" cy="982.9" r="2.4" fill="#aaa6aa"/>
<circle cx="140.6" cy="976.6" r="2.4" fill="#aaa6aa"/>
<circle cx="144.7" cy="982.1" r="2.4" fill="#aaa6aa"/>
<circle cx="149.1" cy="984.6" r="2.4" fill="#aaa6aa"/>
<circle cx="153.2" cy="991.2" r="2.4" fill="#aaa6aa"/>
<circle cx="157.3" cy="984.3" r="2.4" fill="#aaa6aa"/>
<circle cx="161.4" cy="983.2" r="2.4" fill="#aaa6aa"/>
<circle cx="165.6" cy="982.0" r="2.4" fill="#aaa6aa"/>
<circle cx="170.0" cy="964.8" r="2.4" fill="#aaa6aa"/>
<circle cx="174.1" cy="964.8" r="2.4" fill="#aaa6aa"/>
<circle cx="178.2" cy="974.7" r="2.4" fill="#aaa6aa"/>
<circle cx="182.6" cy="953.8" r="2.4" fill="#aaa6aa"/>
<circle cx="186.7" cy="876.4" r="2.4" fill="#aaa6aa"/>
<circle cx="190.7" cy="932.8" r="2.4" fill="#aaa6aa"/>
<circle cx="194.8" cy="935.0" r="2.4" fill="#aaa6aa"/>
<circle cx="199.1" cy="931.8" r="2.4" fill="#aaa6aa"/>
<circle cx="203.2" cy="860.2" r="2.4" fill="#aaa6aa"/>
<circle cx="207.3" cy="888.2" r="2.4" fill="#aaa6aa"/>
<circle cx="211.7" cy="884.4" r="2.4" fill="#aaa6aa"/>
<circle cx="216.0" cy="978.5" r="2.4" fill="#aaa6aa"/>
<circle cx="219.9" cy="936.5" r="2.4" fill="#aaa6aa"/>
<circle cx="224.3" cy="934.6" r="2.4" fill="#aaa6aa"/>
<circle cx="228.2" cy="911.7" r="2.4" fill="#aaa6aa"/>
<circle cx="232.5" cy="892.2" r="2.4" fill="#aaa6aa"/>
<circle cx="236.7" cy="993.0" r="2.4" fill="#aaa6aa"/>
<circle cx="240.8" cy="902.2" r="2.4" fill="#aaa6aa"/>
<circle cx="245.1" cy="866.1" r="2.4" fill="#aaa6aa"/>
<circle cx="249.2" cy="893.6" r="2.4" fill="#aaa6aa"/>
<circle cx="253.5" cy="931.4" r="2.4" fill="#aaa6aa"/>
<circle cx="257.9" cy="961.8" r="2.4" fill="#aaa6aa"/>
<circle cx="261.8" cy="911.7" r="2.4" fill="#aaa6aa"/>
<circle cx="266.0" cy="874.1" r="2.4" fill="#aaa6aa"/>
<circle cx="270.3" cy="912.0" r="2.4" fill="#aaa6aa"/>
<circle cx="274.7" cy="966.4" r="2.4" fill="#aaa6aa"/>
<circle cx="278.8" cy="941.6" r="2.4" fill="#aaa6aa"/>
<circle cx="282.7" cy="879.7" r="2.4" fill="#aaa6aa"/>
<circle cx="287.1" cy="879.4" r="2.4" fill="#aaa6aa"/>
<circle cx="290.0" cy="966.9" r="2.4" fill="#aaa6aa"/>
<circle cx="295.5" cy="819.6" r="2.4" fill="#aaa6aa"/>
<circle cx="299.6" cy="907.9" r="2.4" fill="#aaa6aa"/>
<circle cx="303.9" cy="902.9" r="2.4" fill="#aaa6aa"/>
<circle cx="308.0" cy="860.9" r="2.4" fill="#aaa6aa"/>
<circle cx="312.1" cy="867.7" r="2.4" fill="#aaa6aa"/>
<circle cx="316.5" cy="927.8" r="2.4" fill="#aaa6aa"/>
<circle cx="320.8" cy="793.2" r="2.4" fill="#aaa6aa"/>
<circle cx="324.9" cy="916.4" r="2.4" fill="#aaa6aa"/>
<circle cx="329.0" cy="886.7" r="2.4" fill="#aaa6aa"/>
<circle cx="333.2" cy="860.9" r="2.4" fill="#aaa6aa"/>
<circle cx="337.3" cy="910.5" r="2.4" fill="#aaa6aa"/>
<circle cx="341.5" cy="974.9" r="2.4" fill="#aaa6aa"/>
<circle cx="345.9" cy="931.8" r="2.4" fill="#aaa6aa"/>
<circle cx="350.1" cy="900.7" r="2.4" fill="#aaa6aa"/>
<circle cx="354.2" cy="948.5" r="2.4" fill="#aaa6aa"/>
<circle cx="358.3" cy="892.6" r="2.4" fill="#aaa6aa"/>
<circle cx="362.2" cy="901.4" r="2.4" fill="#aaa6aa"/>
<circle cx="366.7" cy="939.4" r="2.4" fill="#aaa6aa"/>
<circle cx="371.0" cy="797.3" r="2.4" fill="#aaa6aa"/>
<circle cx="375.1" cy="818.4" r="2.4" fill="#aaa6aa"/>
<circle cx="379.4" cy="859.9" r="2.4" fill="#aaa6aa"/>
<circle cx="383.2" cy="911.6" r="2.4" fill="#aaa6aa"/>
<circle cx="386.0" cy="947.9" r="2.4" fill="#aaa6aa"/>
<circle cx="387.6" cy="948.1" r="2.4" fill="#aaa6aa"/>
<circle cx="392.0" cy="925.3" r="2.4" fill="#aaa6aa"/>
<circle cx="396.2" cy="930.6" r="2.4" fill="#aaa6aa"/>
<circle cx="400.3" cy="841.8" r="2.4" fill="#aaa6aa"/>
<circle cx="404.4" cy="925.0" r="2.4" fill="#aaa6aa"/>
<circle cx="408.8" cy="904.1" r="2.4" fill="#aaa6aa"/>
<circle cx="412.8" cy="959.1" r="2.4" fill="#aaa6aa"/>
<circle cx="416.9" cy="975.9" r="2.4" fill="#aaa6aa"/>
<circle cx="421.3" cy="959.8" r="2.4" fill="#aaa6aa"/>
<circle cx="425.7" cy="934.1" r="2.4" fill="#aaa6aa"/>
<circle cx="429.7" cy="940.0" r="2.4" fill="#aaa6aa"/>
<circle cx="433.6" cy="900.4" r="2.4" fill="#aaa6aa"/>
<circle cx="438.0" cy="925.3" r="2.4" fill="#aaa6aa"/>
<circle cx="442.1" cy="968.0" r="2.4" fill="#aaa6aa"/>
<circle cx="446.5" cy="964.2" r="2.4" fill="#aaa6aa"/>
<circle cx="450.6" cy="935.3" r="2.4" fill="#aaa6aa"/>
<circle cx="455.0" cy="954.1" r="2.4" fill="#aaa6aa"/>
<circle cx="459.0" cy="960.2" r="2.4" fill="#aaa6aa"/>
<circle cx="463.1" cy="957.7" r="2.4" fill="#aaa6aa"/>
<circle cx="467.3" cy="943.1" r="2.4" fill="#aaa6aa"/>
<circle cx="471.7" cy="958.0" r="2.4" fill="#aaa6aa"/>
<circle cx="475.5" cy="923.9" r="2.4" fill="#aaa6aa"/>
<circle cx="480.0" cy="956.6" r="2.4" fill="#aaa6aa"/>
<circle cx="483.9" cy="941.9" r="2.4" fill="#aaa6aa"/>
<circle cx="488.3" cy="925.0" r="2.4" fill="#aaa6aa"/>
<circle cx="492.4" cy="892.3" r="2.4" fill="#aaa6aa"/>
<circle cx="496.8" cy="925.0" r="2.4" fill="#aaa6aa"/>
<circle cx="501.0" cy="961.0" r="2.4" fill="#aaa6aa"/>
<circle cx="504.8" cy="957.3" r="2.4" fill="#aaa6aa"/>
<circle cx="509.2" cy="964.2" r="2.4" fill="#aaa6aa"/>
<circle cx="513.6" cy="943.8" r="2.4" fill="#aaa6aa"/>
<circle cx="517.6" cy="976.4" r="2.4" fill="#aaa6aa"/>
<circle cx="521.7" cy="956.9" r="2.4" fill="#aaa6aa"/>
<circle cx="526.1" cy="979.3" r="2.4" fill="#aaa6aa"/>
<circle cx="530.3" cy="966.1" r="2.4" fill="#aaa6aa"/>
<circle cx="534.5" cy="969.3" r="2.4" fill="#aaa6aa"/>
<circle cx="538.6" cy="959.5" r="2.4" fill="#aaa6aa"/>
<circle cx="543.0" cy="931.6" r="2.4" fill="#aaa6aa"/>
<circle cx="546.9" cy="938.5" r="2.4" fill="#aaa6aa"/>
<circle cx="551.0" cy="890.1" r="2.4" fill="#aaa6aa"/>
<circle cx="555.3" cy="890.9" r="2.4" fill="#aaa6aa"/>
<circle cx="559.7" cy="893.5" r="2.4" fill="#aaa6aa"/>
<circle cx="564.1" cy="895.0" r="2.4" fill="#aaa6aa"/>
<circle cx="567.9" cy="951.9" r="2.4" fill="#aaa6aa"/>
<circle cx="572.3" cy="912.1" r="2.4" fill="#aaa6aa"/>
<circle cx="575.8" cy="899.0" r="2.4" fill="#aaa6aa"/>
<circle cx="580.5" cy="893.6" r="2.4" fill="#aaa6aa"/>
<circle cx="584.6" cy="858.4" r="2.4" fill="#aaa6aa"/>
<circle cx="588.9" cy="795.2" r="2.4" fill="#aaa6aa"/>
<circle cx="593.0" cy="821.3" r="2.4" fill="#aaa6aa"/>
<circle cx="597.0" cy="833.3" r="2.4" fill="#aaa6aa"/>
<path d="M106.9,967.8 L111.3,972.9 L115.7,977.3 L119.8,978.5 L123.9,977.3 L128.0,977.3 L132.1,977.7 L136.5,977.7 L140.6,979.5 L144.7,982.4 L149.1,984.3 L153.2,985.4 L157.3,984.6 L161.4,981.7 L165.6,976.6 L170.0,973.6 L174.1,967.8 L178.2,947.2 L182.6,941.1 L186.7,934.8 L190.8,926.7 L190.0,928.5 L194.8,907.0 L199.1,909.1 L203.1,900.7 L207.2,908.5 L211.6,909.5 L215.7,924.8 L219.8,929.2 L223.9,931.1 L228.2,933.6 L232.3,927.0 L236.4,913.1 L240.8,909.5 L244.9,917.2 L249.0,910.5 L253.1,912.4 L257.2,914.3 L261.2,917.8 L265.6,925.1 L270.0,921.2 L274.4,914.6 L278.3,915.8 L282.7,926.3 L286.7,897.3 L291.1,890.7 L295.5,895.1 L299.9,891.4 L303.9,871.6 L308.0,893.6 L312.1,870.6 L316.5,873.1 L320.9,878.2 L324.9,876.0 L329.0,873.4 L333.0,909.9 L337.1,912.4 L341.5,914.6 L345.9,931.8 L349.9,929.9 L354.3,914.6 L358.3,916.1 L362.2,900.2 L366.6,870.2 L369.6,863.9 L372.8,864.3 L379.4,867.0 L383.5,890.0 L387.6,915.2 L391.5,911.6 L395.9,914.0 L400.0,905.0 L404.3,911.8 L408.4,920.4 L412.5,944.4 L416.9,946.3 L421.3,953.6 L425.3,942.6 L429.4,931.2 L433.3,933.1 L437.7,939.7 L441.8,939.0 L446.5,949.2 L450.6,955.8 L454.6,954.4 L458.7,949.7 L462.9,954.1 L467.0,948.2 L471.4,947.5 L475.8,944.1 L479.9,941.2 L483.9,927.7 L488.3,928.0 L492.4,929.1 L496.3,932.4 L500.3,939.0 L504.7,949.2 L508.8,960.2 L513.2,959.9 L517.6,963.9 L522.0,964.6" fill="none" stroke="#000" stroke-width="2.5" stroke-linejoin="round"/>
<path d="M546.6,922.8 L550.6,908.9 L555.3,901.6 L559.4,904.5 L563.8,908.2 L567.7,910.1 L571.5,909.6 L575.4,905.6 L577.6,900.5 L579.1,887.3 L581.3,869.7 L583.5,856.5 L586.4,847.7 L589.3,840.1" fill="none" stroke="#000" stroke-width="2.5" stroke-linejoin="round"/>
<rect x="0.75" y="0.8" width="35.3" height="35.2" fill="none" stroke="#111" stroke-width="1.5"/>
<text x="16.80" y="27.8" text-anchor="middle" font-size="32" fill="#111">a</text>
<rect x="4.75" y="375.6" width="35" height="35.4" fill="none" stroke="#111" stroke-width="1.5"/>
<text x="20.65" y="405.7" text-anchor="middle" font-size="32" fill="#111">b</text>
<rect x="4.75" y="721.1" width="35" height="35" fill="none" stroke="#111" stroke-width="1.5"/>
<text x="20.65" y="751.0" text-anchor="middle" font-size="32" fill="#111">c</text>
<text transform="translate(43.3,300) rotate(-90)" font-size="20.8" fill="#111" xml:space="preserve">Open Crack density  (m<tspan dx="1" dy="-7.2" font-size="13.5">-2</tspan><tspan dy="7.2">)</tspan></text>
<text transform="translate(59.5,658.8) rotate(-90)" font-size="20.0" fill="#111" xml:space="preserve">Open Crack intensity  (m<tspan dx="0.8" dy="-7.3" font-size="13.5">-1</tspan><tspan dy="7.3">)</tspan></text>
<text transform="translate(49,856.3) rotate(-90)" font-size="20.1" fill="#111" xml:space="preserve">length (m)</text>
<text transform="translate(670.6,26.8) rotate(90)" font-size="18.8" fill="#4cb84e" xml:space="preserve">Cumulative  open crack density (n/m<tspan dy="-7" font-size="12">2</tspan><tspan dy="7">)</tspan></text>
<text transform="translate(670.6,386.6) rotate(90)" font-size="18.8" fill="#4cb84e" xml:space="preserve">Cumulative  open crack intensity (m<tspan dy="-7" font-size="12">-1</tspan><tspan dy="7">)</tspan></text>
<text x="495" y="27.6" font-size="16" fill="#111">Fault core</text>
<text x="364" y="47.3" font-size="13.3" fill="#111">Hanging wall</text>
<text x="542" y="47.9" font-size="13.3" fill="#111">Footwall</text>
<text x="369" y="169.6" font-size="18.6" fill="#111">Fig. 9a</text>
<text x="369" y="551.8" font-size="18.6" fill="#111">Fig. 9b</text>
<text x="369" y="852.7" font-size="18.6" fill="#111">Fig. 9c</text>
</svg>
</body></html>
